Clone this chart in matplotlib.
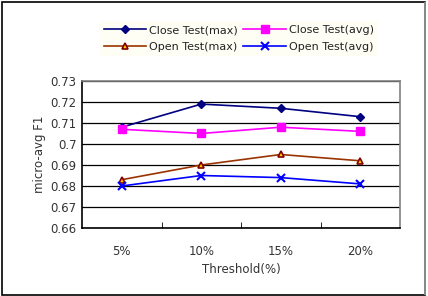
import matplotlib.pyplot as plt
from matplotlib.patches import Rectangle
import numpy as np

thresholds = ["5%", "10%", "15%", "20%"]
close_max = [0.708, 0.719, 0.717, 0.713]
close_avg = [0.707, 0.705, 0.708, 0.706]
open_max = [0.683, 0.690, 0.695, 0.692]
open_avg = [0.680, 0.685, 0.684, 0.681]

fs = 8.5
fig = plt.figure(figsize=(4.28, 2.96), dpi=100)
ax = fig.add_axes([0.1916, 0.2297, 0.743, 0.4967])
x = np.arange(len(thresholds))

h1, = ax.plot(x, close_max, color="#000080", marker="D", markersize=4, lw=1.2, label="Close Test(max)")
h2, = ax.plot(x, close_avg, color="#FF00FF", marker="s", markersize=6, lw=1.2, label="Close Test(avg)")
h3, = ax.plot(x, open_max, color="#993300", marker="^", markersize=5, lw=1.2,
              markerfacecolor="#FFCC00", markeredgecolor="#800000", markeredgewidth=1.2, label="Open Test(max)")
h4, = ax.plot(x, open_avg, color="#0000FF", marker="x", markersize=6, mew=1.5, lw=1.2, label="Open Test(avg)")

ax.set_xlim(-0.5, 3.5)
ax.set_ylim(0.66, 0.73)
ax.set_yticks(np.arange(0.66, 0.7301, 0.01))
ax.set_yticklabels(["0.66", "0.67", "0.68", "0.69", "0.7", "0.71", "0.72", "0.73"])
ax.yaxis.grid(True, color="black", lw=0.9)
ax.set_axisbelow(True)

ax.set_xticks(x)
ax.set_xticklabels(thresholds)
ax.set_xticks([0.5, 1.5, 2.5], minor=True)
ax.tick_params(axis="x", which="major", length=0, pad=12)
ax.tick_params(axis="x", which="minor", direction="in", length=4, color="black")
ax.tick_params(axis="y", length=0, pad=4)
ax.tick_params(labelsize=fs, labelcolor="#333333")

for s in ["top", "right"]:
    ax.spines[s].set_color("#808080")
    ax.spines[s].set_linewidth(1.2)
for s in ["left", "bottom"]:
    ax.spines[s].set_color("black")
    ax.spines[s].set_linewidth(1.2)

ax.set_xlabel("Threshold(%)", fontsize=fs, color="#333333", labelpad=4)
ax.set_ylabel("micro-avg F1", fontsize=fs, color="#333333", labelpad=3)

# legend filled row by row like the original
leg = fig.legend([h1, h3, h2, h4], [h.get_label() for h in [h1, h3, h2, h4]],
                 loc="center", bbox_to_anchor=(0.558, 0.87), ncol=2, fontsize=8,
                 frameon=True, fancybox=False, handlelength=3.8, columnspacing=0.5,
                 handletextpad=0.3, labelspacing=0.6, borderpad=0.4)
leg.get_frame().set_facecolor("#FFFEF2")
leg.get_frame().set_edgecolor("none")
for t in leg.get_texts():
    t.set_color("#222222")

fig.patches.append(Rectangle((0.004, 0.004), 0.99, 0.99, transform=fig.transFigure,
                             fill=False, edgecolor="black", lw=1.2))
fig.patches.append(Rectangle((0.991, 0.004), 0.004, 0.99, transform=fig.transFigure,
                             color="#888888", lw=0))

fig.savefig("out.png", dpi=100)
